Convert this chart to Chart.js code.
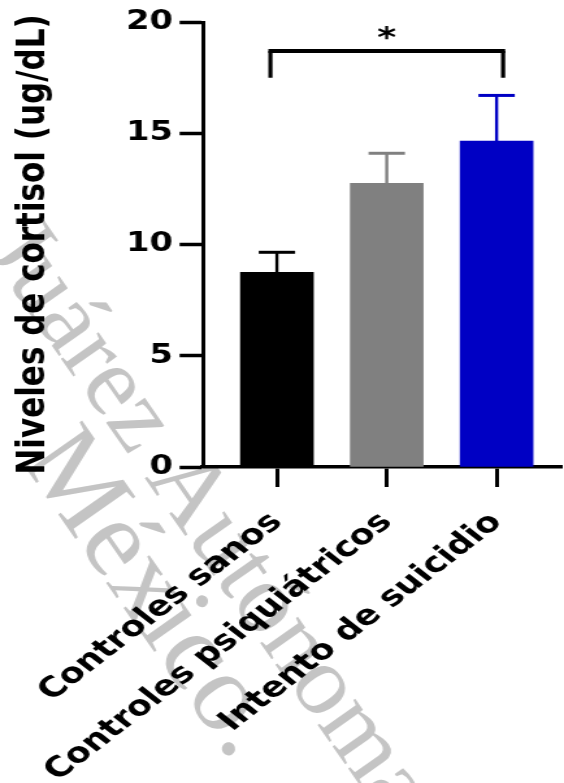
<!DOCTYPE html>
<html>
<head>
<meta charset="utf-8">
<script src="https://cdn.jsdelivr.net/npm/chart.js@4.4.1/dist/chart.umd.min.js"></script>
<style>
  html, body { margin: 0; padding: 0; background: #fff; overflow: hidden; }
  /* the source figure was placed horizontally stretched, so the canvas is too */
  #wrap { position: relative; width: 434px; height: 783px; transform: scaleX(1.2995); transform-origin: 0 0; }
</style>
</head>
<body>
<div id="wrap"><canvas id="chart"></canvas></div>
<script>
// groups on the x axis
const categories = ['Controles sanos', 'Controles psiquiátricos', 'Intento de suicidio'];
// mean cortisol per group (ug/dL)
const means = [8.75, 12.75, 14.65];
// upper error bar (SEM) per group
const errors = [0.9, 1.35, 2.05];
const barColors = ['#000000', '#808080', '#0000c4'];
const yTicks = [0, 5, 10, 15, 20];

// significance bracket: groups compared, bracket level, leg bottom, mark
const sigFrom = [0];
const sigTo = [2];
const sigLevel = [18.7];
const sigLegEnd = [17.5];
const sigMark = ['*'];

const watermarkLines = ['de Juárez Autónoma de Tabasco', 'México.'];

const S = 564 / 434; // horizontal stretch
const FONT = "'DejaVu Sans', sans-serif";

// faint grey thesis watermark behind the plot (not stretched)
const watermark = {
  id: 'watermark',
  beforeDraw(chart) {
    const ctx = chart.ctx;
    const spots = [[-85, 150, 100], [20, 460, 112]];
    ctx.save();
    ctx.scale(1 / S, 1);
    ctx.fillStyle = '#c4c4c4';
    ctx.textBaseline = 'alphabetic';
    watermarkLines.forEach((t, i) => {
      ctx.save();
      ctx.font = spots[i][2] + 'px "Liberation Serif", serif';
      ctx.translate(spots[i][0], spots[i][1]);
      ctx.rotate(55 * Math.PI / 180);
      ctx.fillText(t, 0, 0);
      ctx.restore();
    });
    ctx.restore();
  }
};

// upward-only error bars in the bar colour
const errorBars = {
  id: 'errorBars',
  afterDatasetsDraw(chart) {
    const { ctx, scales: { x, y } } = chart;
    ctx.save();
    means.forEach((m, i) => {
      const px = x.getPixelForValue(i + 1);
      const top = y.getPixelForValue(m + errors[i]);
      const base = y.getPixelForValue(m);
      ctx.strokeStyle = barColors[i];
      ctx.lineWidth = 2.4;
      ctx.beginPath();
      ctx.moveTo(px, base);
      ctx.lineTo(px, top);
      ctx.stroke();
      ctx.lineWidth = 3;
      ctx.beginPath();
      ctx.moveTo(px - 14, top);
      ctx.lineTo(px + 14, top);
      ctx.stroke();
    });
    ctx.restore();
  }
};

// significance bracket with its mark
const bracket = {
  id: 'bracket',
  afterDraw(chart) {
    const { ctx, scales: { x, y } } = chart;
    ctx.save();
    ctx.strokeStyle = '#000';
    ctx.fillStyle = '#000';
    sigFrom.forEach((f, i) => {
      const x1 = x.getPixelForValue(f + 1) - 5;
      const x2 = x.getPixelForValue(sigTo[i] + 1) + 5;
      const yl = y.getPixelForValue(sigLevel[i]);
      const yb = y.getPixelForValue(sigLegEnd[i]);
      ctx.lineWidth = 3.2;
      ctx.beginPath();
      ctx.moveTo(x1, yb);
      ctx.lineTo(x1, yl);
      ctx.moveTo(x2, yl);
      ctx.lineTo(x2, yb);
      ctx.stroke();
      ctx.lineWidth = 4;
      ctx.beginPath();
      ctx.moveTo(x1 - 1.6, yl);
      ctx.lineTo(x2 + 1.6, yl);
      ctx.stroke();
      ctx.font = 'bold 28px ' + FONT;
      ctx.textAlign = 'center';
      ctx.textBaseline = 'alphabetic';
      ctx.fillText(sigMark[i], (x1 + x2) / 2, yl - 4);
    });
    ctx.restore();
  }
};

new Chart(document.getElementById('chart'), {
  type: 'bar',
  data: {
    datasets: [{
      data: means.map((m, i) => ({ x: i + 1, y: m })),
      backgroundColor: barColors,
      borderWidth: 0,
      barThickness: 56
    }]
  },
  options: {
    responsive: true,
    maintainAspectRatio: false,
    animation: false,
    layout: { padding: { top: 22, right: 2, left: 4, bottom: 0 } },
    plugins: {
      legend: { display: false },
      tooltip: { enabled: false }
    },
    scales: {
      x: {
        type: 'linear',
        offset: false,
        min: 0.327,
        max: 3.59,
        afterBuildTicks: s => { s.ticks = categories.map((c, i) => ({ value: i + 1 })); },
        afterFit: s => {
          s.height = 316;
          // long rotated labels must not push the plot area right
          s.paddingLeft = 0;
          s.paddingRight = 0;
        },
        border: { display: true, color: '#000', width: 3.6 },
        grid: { offset: false, drawOnChartArea: false, drawTicks: true, tickLength: 20, tickWidth: 3, color: '#000', tickColor: '#000' },
        ticks: {
          autoSkip: false,
          minRotation: 45,
          maxRotation: 45,
          padding: 19,
          color: '#000',
          font: { family: FONT, size: 28, weight: 'bold' },
          callback: v => categories[v - 1]
        }
      },
      y: {
        min: yTicks[0],
        max: yTicks[yTicks.length - 1],
        afterBuildTicks: s => { s.ticks = yTicks.map(v => ({ value: v })); },
        afterFit: s => { s.width = 203 / S - 4; },
        border: { display: true, color: '#000', width: 3 },
        grid: { drawOnChartArea: false, drawTicks: true, tickLength: 18, tickWidth: 3.5, color: '#000', tickColor: '#000' },
        ticks: {
          padding: 5,
          color: '#000',
          font: { family: FONT, size: 26, weight: 'bold', lineHeight: 1 }
        },
        title: {
          display: true,
          text: 'Niveles de cortisol (ug/dL)',
          color: '#000',
          font: { family: FONT, size: 31, weight: 'bold' },
          padding: { top: 3, bottom: 0 }
        }
      }
    }
  },
  plugins: [watermark, errorBars, bracket]
});
</script>
</body>
</html>
